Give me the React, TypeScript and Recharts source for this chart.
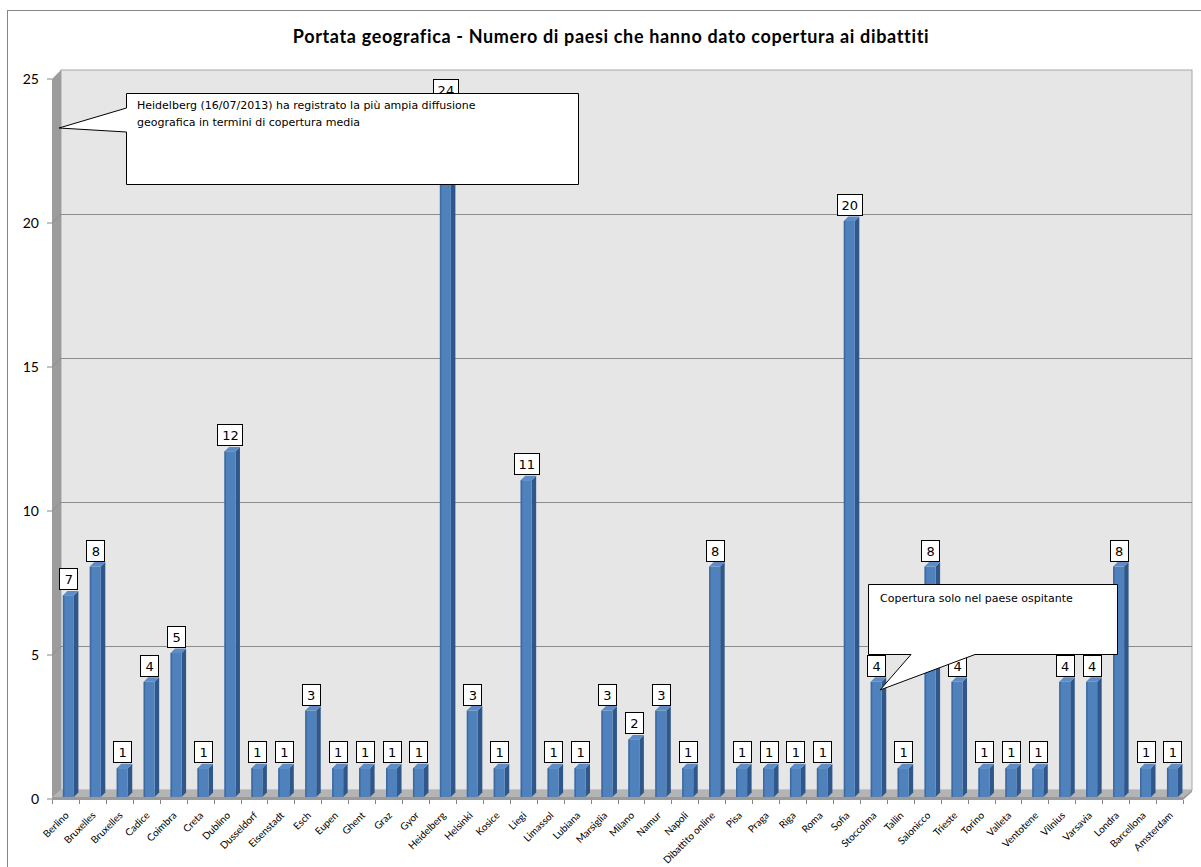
import React from "react";
import {
  BarChart,
  Bar,
  XAxis,
  YAxis,
  ReferenceArea,
  LabelList,
} from "recharts";

const CATEGORIES = [
  "Berlino", "Bruxelles", "Bruxelles", "Cadice", "Coimbra", "Creta", "Dublino",
  "Dusseldorf", "Eisenstadt", "Esch", "Eupen", "Ghent", "Graz", "Gyor",
  "Heidelberg", "Helsinki", "Kosice", "Liegi", "Limassol", "Lubiana",
  "Marsiglia", "Milano", "Namur", "Napoli", "Dibattito online", "Pisa", "Praga",
  "Riga", "Roma", "Sofia", "Stoccolma", "Tallin", "Salonicco", "Trieste",
  "Torino", "Valleta", "Ventotene", "Vilnius", "Varsavia", "Londra",
  "Barcellona", "Amsterdam",
];

const PAESI = [
  7, 8, 1, 4, 5, 1, 12, 1, 1, 3, 1, 1, 1, 1, 24, 3, 1, 11, 1, 1, 3, 2, 3, 1, 8,
  1, 1, 1, 1, 20, 4, 1, 8, 4, 1, 1, 1, 4, 4, 8, 1, 1,
];

const Y_TICKS = [0, 5, 10, 15, 20, 25];

const TITLE =
  "Portata geografica - Numero di paesi che hanno dato copertura ai dibattiti";
const NOTE_HEIDELBERG = [
  "Heidelberg (16/07/2013) ha registrato la più ampia diffusione",
  "geografica in termini di copertura media",
];
const NOTE_HOST = "Copertura solo nel paese ospitante";

const data = CATEGORIES.map((name, i) => ({ name, paesi: PAESI[i] }));

const W = 1201;
const H = 867;
const DEPTH = 9;
const SANS = "Lato, 'Open Sans', sans-serif";

// back wall, left wall, floor and gridlines of the 3D look
const Walls = (p: any) => {
  const { x, y, width, height } = p;
  if (x == null) return null;
  const d = DEPTH;
  const yAt = (v: number) => y + height * (1 - v / 25);
  const bottom = y + height;
  const ticks = [];
  for (let i = 0; i <= CATEGORIES.length; i++) {
    const tx = Math.round(x + (i * width) / CATEGORIES.length) + 0.5;
    ticks.push(
      <line key={i} x1={tx} y1={bottom + 1} x2={tx} y2={bottom + 5} stroke="#868686" />
    );
  }
  return (
    <g>
      <rect x={x + d} y={y - d} width={width} height={height} fill="#e6e6e6" stroke="#a6a6a6" />
      <polygon
        points={`${x},${y} ${x + d},${y - d} ${x + d},${bottom - d} ${x},${bottom}`}
        fill="#9c9c9c"
      />
      {Y_TICKS.filter((v) => v > 0 && v < 25).map((v) => (
        <g key={v}>
          <line x1={x + d} y1={Math.round(yAt(v) - d) + 0.5} x2={x + width + d} y2={Math.round(yAt(v) - d) + 0.5} stroke="#8c8c8c" />
          <line x1={x} y1={yAt(v)} x2={x + d} y2={yAt(v) - d} stroke="#8c8c8c" />
        </g>
      ))}
      <polygon
        points={`${x},${bottom - 2} ${x + d},${bottom - d} ${x + width + d},${bottom - d} ${x + width},${bottom - 2}`}
        fill="#b4b4b4"
      />
      <polygon
        points={`${x},${bottom - 2} ${x + width},${bottom - 2} ${x + width + d},${bottom - d} ${x + width + d},${bottom - d + 2} ${x + width},${bottom + 1} ${x},${bottom + 1}`}
        fill="#9a9a9a"
      />
      {ticks}
    </g>
  );
};

const Bar3D = (p: any) => {
  const { x, y, width, height } = p;
  if (x == null || height == null) return null;
  const cx = x + width / 2 + 3;
  const fw = 11;
  const x0 = cx - fw / 2;
  const x1 = cx + fw / 2;
  const top = y - 2;
  const bot = y + height - 2;
  const d = 4.5;
  return (
    <g>
      <polygon points={`${x1},${top} ${x1 + d},${top - d} ${x1 + d},${bot - d} ${x1},${bot}`} fill="#30578a" />
      <polygon points={`${x0},${top} ${x0 + d},${top - d} ${x1 + d},${top - d} ${x1},${top}`} fill="#5d8cc6" />
      <rect x={x0} y={top} width={fw} height={bot - top} fill="#4f81bd" />
      <rect x={x0} y={top} width={1.5} height={bot - top} fill="#3f6aa0" />
    </g>
  );
};

const ValueBox = (p: any) => {
  const vb = p.viewBox || p;
  const { x, y, width } = vb;
  if (x == null) return null;
  const cx = x + width / 2 + 3;
  const txt = String(p.value);
  const w = txt.length > 1 ? 25 : 18;
  const h = 21;
  const bottom = Math.round(y - 8);
  const left = Math.round(cx - w / 2) + 0.5;
  return (
    <g>
      <rect x={left} y={bottom - h + 0.5} width={w} height={h} fill="#fff" stroke="#000" />
      <text x={cx + 0.5} y={bottom - 5} textAnchor="middle" fontFamily="'DejaVu Sans'" fontSize={13} fill="#000">
        {txt}
      </text>
    </g>
  );
};

const CityTick = (p: any) => {
  const { x, y, payload } = p;
  const ax = x + 4;
  const ay = y + 9;
  return (
    <text
      x={ax}
      y={ay}
      transform={`rotate(-45 ${ax} ${ay})`}
      textAnchor="end"
      fontFamily={SANS}
      fontSize={10}
      fill="#000"
    >
      {payload.value}
    </text>
  );
};

export default function App() {
  return (
    <div style={{ position: "absolute", left: 0, top: 0, width: W, height: H, background: "#fff" }}>
      <BarChart
        width={W}
        height={H}
        data={data}
        margin={{ top: 79, right: 18, bottom: 0, left: 0 }}
        barCategoryGap="20%"
      >
        <ReferenceArea y1={0} y2={25} shape={Walls} ifOverflow="visible" zIndex={-150} />
        <XAxis
          dataKey="name"
          interval={0}
          tickLine={false}
          axisLine={false}
          tick={<CityTick />}
          height={68}
        />
        <YAxis
          domain={[0, 25]}
          ticks={Y_TICKS}
          width={52}
          axisLine={false}
          tickSize={5}
          tickMargin={8}
          tickLine={{ stroke: "#868686" }}
          tick={{ fontFamily: SANS, fontSize: 14, fill: "#000" }}
        />
        <Bar dataKey="paesi" shape={Bar3D} isAnimationActive={false}>
          <LabelList dataKey="paesi" content={ValueBox} />
        </Bar>
      </BarChart>
      <svg
        width={W}
        height={H}
        style={{ position: "absolute", left: 0, top: 0, pointerEvents: "none" }}
      >
        <rect x={7.5} y={10.5} width={1300} height={1000} fill="none" stroke="#868686" />
        <text x={611} y={43} textAnchor="middle" fontFamily={SANS} fontWeight="bold" fontSize={18} letterSpacing={0.65} fill="#000">
          {TITLE}
        </text>
        <path
          d="M126.5,108 L59,128 L126.5,132 L126.5,184.5 L578.5,184.5 L578.5,93.5 L126.5,93.5 Z"
          fill="#fff"
          stroke="#000"
        />
        {NOTE_HEIDELBERG.map((line, i) => (
          <text key={i} x={137} y={109 + i * 17} fontFamily="'DejaVu Sans'" fontSize={11} fill="#000">
            {line}
          </text>
        ))}
        <path
          d="M868.5,584.5 L1117.5,584.5 L1117.5,654.5 L975,654.5 L880,690 L911,654.5 L868.5,654.5 Z"
          fill="#fff"
          stroke="#000"
        />
        <text x={880} y={602} fontFamily="'DejaVu Sans'" fontSize={11} fill="#000">
          {NOTE_HOST}
        </text>
      </svg>
    </div>
  );
}
